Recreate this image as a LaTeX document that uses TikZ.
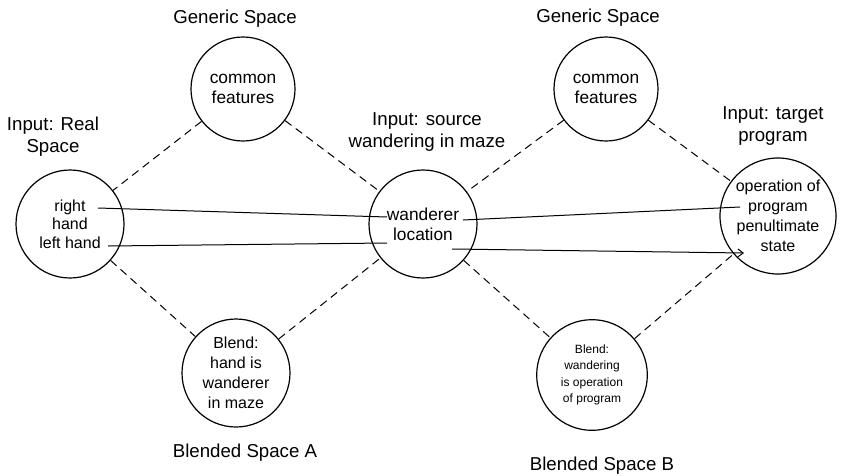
\documentclass[tikz,border=0pt]{standalone}
\usepackage{fontspec}
\setmainfont{Liberation Sans}
\usetikzlibrary{arrows.meta}
\begin{document}
\begin{tikzpicture}[x=0.75pt, y=-0.75pt,
    space/.style={circle, draw, line width=0.9pt, inner sep=0pt, align=center},
    title/.style={font=\fontsize{14}{16.5}\selectfont, align=center, inner sep=0pt},
    map/.style={dashed, dash pattern=on 6pt off 4pt, line width=0.75pt},
    link/.style={line width=0.75pt}]
    \useasboundingbox (0,0) rectangle (848,475);

    % Circles for the spaces
    \node[space, minimum size=81pt, font=\fontsize{12}{14}\selectfont] (real) at (70,224) {right\\hand\\left hand};
    \node[space, minimum size=78pt, font=\fontsize{13}{15}\selectfont] (genA) at (243,89) {common\\features};
    \node[space, minimum size=81pt, font=\fontsize{13}{15}\selectfont] (src) at (423,224) {wanderer\\location};
    \node[space, minimum size=78pt, font=\fontsize{13}{15}\selectfont] (genB) at (606,89) {common\\features};
    \node[space, minimum size=87pt, font=\fontsize{12}{15}\selectfont] (tgt) at (778,216) {operation of\\program\\penultimate\\state};
    \node[space, minimum size=81pt, font=\fontsize{12}{15}\selectfont] (blendA) at (236,373) {Blend:\\hand is\\wanderer\\in maze};
    \node[space, minimum size=83pt, font=\fontsize{9}{12.4}\selectfont] (blendB) at (592,375) {Blend:\\wandering\\is operation\\of program};

    % Titles of the spaces
    \node[title, anchor=north] (realT) at (53,117) {Input: Real\\Space};
    \node[title, anchor=base] (genAT) at (235,23) {Generic Space};
    \node[title, anchor=north] (srcT) at (427,112) {Input: source\\wandering in maze};
    \node[title, anchor=base] (genBT) at (598,22) {Generic Space};
    \node[title, anchor=north] (tgtT) at (773,106) {Input: target\\program};
    \node[title, anchor=base] (blendAT) at (245,457) {Blended Space A};
    \node[title, anchor=base] (blendBT) at (602,470) {Blended Space B};

    % Dashed mappings between the spaces
    \draw[map] (genA) -- (real);
    \draw[map] (genA) -- (src);
    \draw[map] (real) -- (blendA);
    \draw[map] (blendA) -- (src);
    \draw[map] (genB) -- (src);
    \draw[map] (genB) -- (tgt);
    \draw[map] (src) -- (blendB);
    \draw[map] (blendB) -- (tgt);

    % End points of the element links
    \coordinate (rhand) at (98,208);
    \coordinate (lhand) at (108,246);
    \coordinate (wandL) at (387,217);
    \coordinate (locL) at (387,243);
    \coordinate (wandR) at (463,220);
    \coordinate (locR) at (452,249);
    \coordinate (oper) at (740,207);
    \coordinate (pstate) at (744,253);

    % Solid links between elements
    \draw[link] (rhand) -- (wandL);
    \draw[link] (lhand) -- (locL);
    \draw[link] (wandR) -- (oper);
    \draw[link, -{Straight Barb[length=4pt, width=6pt]}] (locR) -- (pstate);
\end{tikzpicture}
\end{document}
